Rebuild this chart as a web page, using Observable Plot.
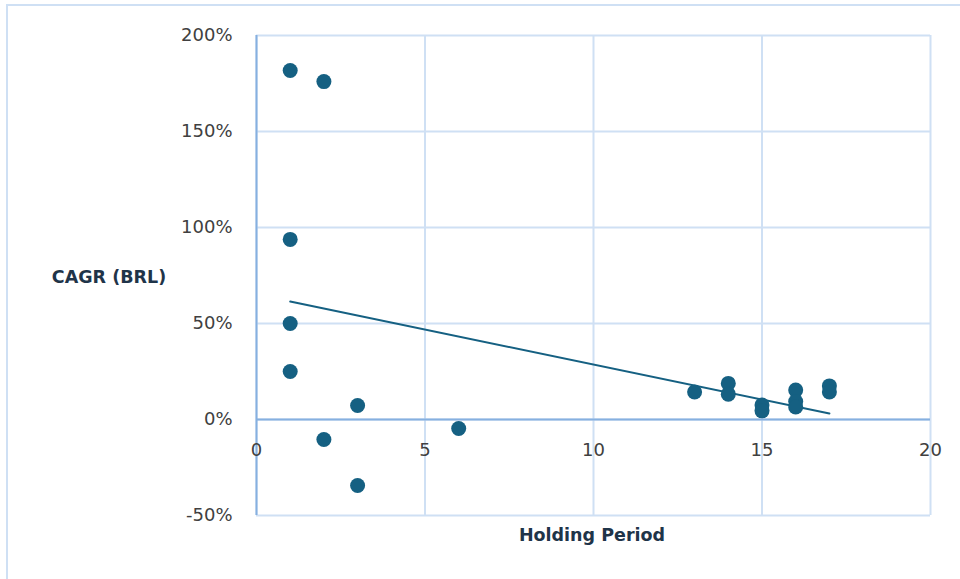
<!DOCTYPE html>
<html>
<head>
<meta charset="utf-8">
<script src="https://cdn.jsdelivr.net/npm/d3@7"></script>
<script src="https://cdn.jsdelivr.net/npm/@observablehq/plot@0.6"></script>
<style>
  html, body { margin: 0; padding: 0; background: #fff; overflow: hidden; }
  #wrap { position: relative; width: 960px; height: 579px; }
  #frame {
    position: absolute; left: 6px; top: 4px; width: 1000px; height: 600px;
    border-left: 2px solid #cfe0f4; border-top: 2px solid #cfe0f4; pointer-events: none;
  }
  #chart { position: absolute; left: 0; top: 0; }
  .title {
    position: absolute; font-family: "DejaVu Sans", sans-serif; font-weight: bold;
    font-size: 17.5px; color: #1f3449; white-space: nowrap; transform: translate(-50%, -50%);
  }
</style>
</head>
<body>
<div id="wrap">
  <div id="frame"></div>
  <div id="chart"></div>
  <div class="title" style="left:109px; top:277px;">CAGR (BRL)</div>
  <div class="title" style="left:592px; top:535px;">Holding Period</div>
</div>
<script>
// Holding period (years) and compound annual growth rate in BRL (%)
const holdingPeriod = [1, 1, 1, 1, 2, 2, 3, 3, 6, 13, 14, 14, 15, 15, 16, 16, 16, 17, 17];
const cagrPct = [181.8, 93.8, 50, 25, 176, -10.4, 7.3, -34.4, -4.7, 14.3, 18.8, 13.2, 7.5, 4.5, 15.3, 9.4, 6.5, 17.5, 14.3];

const xTicks = [0, 5, 10, 15, 20];
const yTicks = [-50, 0, 50, 100, 150, 200];

const points = holdingPeriod.map((x, i) => ({x, y: cagrPct[i]}));

const accent = "#156082";
const gridColor = "#cfe0f4";
const axisColor = "#86b0e0";

const chart = Plot.plot({
  width: 960,
  height: 579,
  marginLeft: 256,
  marginRight: 30,
  marginTop: 35,
  marginBottom: 64,
  style: {fontFamily: "DejaVu Sans, sans-serif", fontSize: "18px", color: "#404040", background: "transparent"},
  x: {domain: [0, 20], ticks: xTicks},
  y: {domain: [-50, 200], ticks: yTicks},
  marks: [
    Plot.gridX(xTicks, {stroke: gridColor, strokeOpacity: 1, strokeWidth: 2}),
    Plot.gridY(yTicks, {stroke: gridColor, strokeOpacity: 1, strokeWidth: 2}),
    Plot.ruleX([0], {stroke: axisColor, strokeWidth: 2}),
    Plot.ruleY([0], {stroke: axisColor, strokeWidth: 2}),
    Plot.axisY(yTicks, {tickSize: 0, tickPadding: 24, tickFormat: d => d + "%", label: null, fill: "#404040"}),
    Plot.text(xTicks, {x: d => d, y: 0, dy: 31, text: d => String(d), fill: "#404040"}),
    Plot.linearRegressionY(points, {x: "x", y: "y", stroke: accent, strokeWidth: 2, ci: 0}),
    Plot.dot(points, {x: "x", y: "y", r: 7.5, fill: accent, stroke: "none"}),
    Plot.axisX({ticks: [], label: null, tickSize: 0})
  ]
});

document.getElementById("chart").append(chart);
</script>
</body>
</html>
